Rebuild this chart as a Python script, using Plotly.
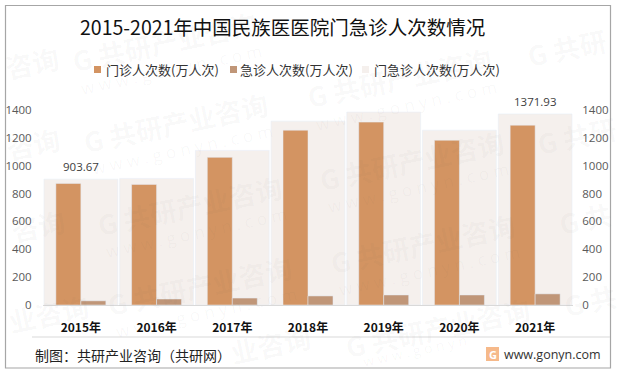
import plotly.graph_objects as go

years = ["2015年", "2016年", "2017年", "2018年", "2019年", "2020年", "2021年"]
outpatient = [873, 866, 1060, 1255, 1313, 1183, 1291]
emergency = [30, 43, 50, 65, 72, 72, 80]
total = [903.67, 909, 1110, 1320, 1385, 1255, 1371.93]
tick_vals = [0, 200, 400, 600, 800, 1000, 1200, 1400]
labelled = {"2015年": "903.67", "2021年": "1371.93"}
names = ["门诊人次数(万人次)", "急诊人次数(万人次)", "门急诊人次数(万人次)"]
colors = ["#D39462", "#C09678", "#F5F0ED"]
title_text = "2015-2021年中国民族医医院门急诊人次数情况"
source_text = "制图：共研产业咨询（共研网）"
site_text = "www.gonyn.com"
watermark_main = "G 共研产业咨询"
watermark_left = "咨询"
watermark_left2 = "业咨询"
watermark_right = "G 共研"
watermark_right2 = "G 共"
watermark_sub = "w w w . g o n y n . c o m"
watermark_sub_short = "w w w . g o n y n"

W, H = 621, 374
L, R, T, B = 43, 573, 110, 305
FONT = "Open Sans, Liberation Sans, Noto Sans CJK SC, sans-serif"
CJK = "Noto Sans CJK SC, Liberation Sans, sans-serif"


def fx(px):
    return (px - L) / (R - L)


def fy(py):
    return (B - py) / (B - T)


fig = go.Figure()
fig.add_bar(x=years, y=outpatient, name=names[0], marker_color=colors[0], yaxis="y2")
fig.add_bar(x=years, y=emergency, name=names[1], marker_color=colors[1], yaxis="y2")
fig.add_bar(x=years, y=total, name=names[2], marker_color=colors[2], width=0.975, yaxis="y")

axis_common = dict(
    range=[0, 1400], tickvals=tick_vals, showgrid=False, zeroline=False, automargin=False,
    ticks="outside", tickcolor="rgba(0,0,0,0)",
    tickfont=dict(size=11.5, color="#595959", family=FONT),
)


def label(px, py, text, size, color, family=CJK, anchor="left", angle=0):
    return dict(x=fx(px), y=fy(py), xref="paper", yref="paper", text=text, showarrow=False,
                xanchor=anchor, yanchor="middle", textangle=angle,
                font=dict(size=size, color=color, family=family))


annotations = []
for yr, v in zip(years, total):
    if yr in labelled:
        annotations.append(dict(x=yr, y=v, xref="x", yref="y2", text=labelled[yr], showarrow=False,
                                yanchor="bottom", yshift=3,
                                font=dict(size=11.5, color="#404040", family=FONT)))

annotations.append(label(78, 27, title_text, 19.5, "#111111"))
annotations.append(label(33, 355, source_text, 14, "#222222"))
annotations.append(label(502, 354, site_text, 12.5, "#333333", FONT))
annotations.append(label(492.5, 354, "<b>G</b>", 11, "white", FONT, "center"))

WM = "rgba(90,90,90,0.04)"
for cx, cy in [(165, 42), (176, 122), (190, 205), (200, 285), (400, 78), (412, 160), (423, 243)]:
    annotations.append(label(cx, cy, "<b>" + watermark_main + "</b>", 27, WM, CJK, "center", -12))
    annotations.append(label(cx + 6, cy + 27, watermark_sub, 17, WM, FONT, "center", -12))
annotations.append(label(438, 327, "<b>" + watermark_main + "</b>", 27, WM, CJK, "center", -12))
annotations.append(label(415, 350, watermark_sub_short, 14, WM, FONT, "center", -12))
for cx, cy, txt in [(32, 62, watermark_left), (33, 143, watermark_left), (38, 225, watermark_left),
                    (48, 313, watermark_left2), (270, 344, watermark_left2),
                    (567, 47, watermark_right), (577, 135, watermark_right),
                    (585, 218, watermark_right2), (590, 300, watermark_right2)]:
    annotations.append(label(cx, cy, "<b>" + txt + "</b>", 27, WM, CJK, "center", -12))

legend_swatch = [94, 230, 362]
legend_text = [104, 238, 372]
shapes = [
    dict(type="rect", xref="paper", yref="paper", x0=fx(5.5), x1=fx(610.5), y0=fy(5.5), y1=fy(368),
         line=dict(color="#A6A6A6", width=1.2)),
    dict(type="line", xref="paper", yref="paper", x0=fx(32), x1=fx(610), y0=fy(337), y1=fy(337),
         line=dict(color="#D9D9D9", width=1)),
    dict(type="rect", xref="paper", yref="paper", x0=fx(486), x1=fx(499), y0=fy(347), y1=fy(361),
         fillcolor="#F6B98A", line=dict(width=0), layer="below"),
]
for sx, tx, name, col in zip(legend_swatch, legend_text, names, colors):
    shapes.append(dict(type="rect", xref="paper", yref="paper", x0=fx(sx), x1=fx(sx + 7), y0=fy(66), y1=fy(73),
                       fillcolor=col, line=dict(width=0)))
    annotations.append(label(tx, 69, name, 13, "#333333"))

fig.update_layout(
    width=W, height=H, autosize=False,
    margin=dict(l=L, r=W - R, t=T, b=H - B, pad=0, autoexpand=False),
    paper_bgcolor="white", plot_bgcolor="rgba(0,0,0,0)",
    barmode="group", bargap=0.34, bargroupgap=0,
    font=dict(family=CJK),
    showlegend=False,
    xaxis=dict(type="category", categoryorder="array", categoryarray=years, showgrid=False, zeroline=False,
               range=[-0.5, 6.5], automargin=False,
               showline=True, linecolor="#D9D9D9", linewidth=1,
               ticks="outside", ticklen=12, tickcolor="rgba(0,0,0,0)",
               tickfont=dict(size=12, color="#111111", family=CJK, weight="bold")),
    yaxis=dict(side="right", ticklen=6, **axis_common),
    yaxis2=dict(side="left", overlaying="y", ticklen=8, **axis_common),
    annotations=annotations, shapes=shapes,
)

fig.write_html("out.html", config={"displayModeBar": False},
               post_script="document.body.style.margin='0';document.body.style.overflow='hidden';")
